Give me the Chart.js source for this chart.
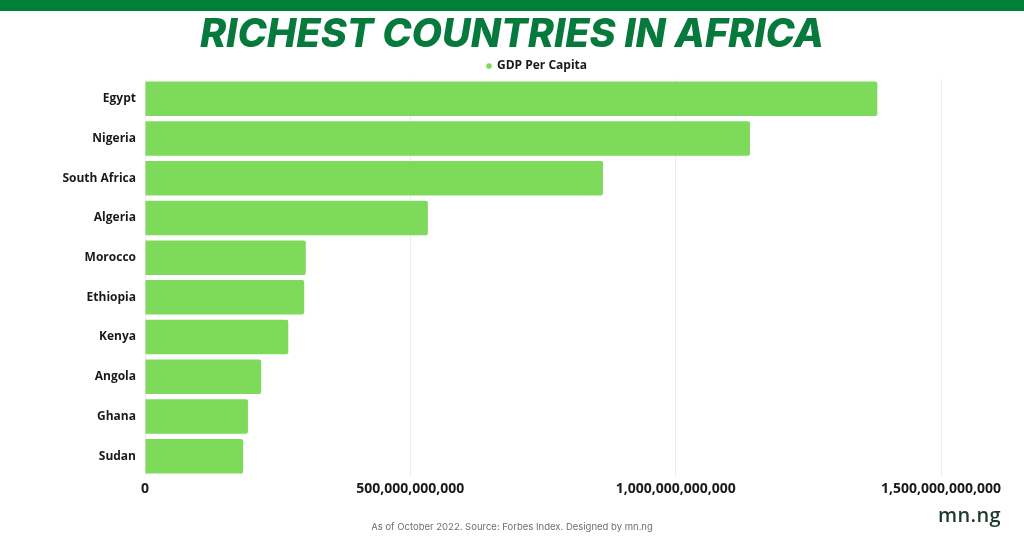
<!DOCTYPE html>
<html>
<head>
<meta charset="utf-8">
<title>Richest Countries in Africa</title>
<script src="https://cdn.jsdelivr.net/npm/chart.js@4"></script>
<style>
    html, body { margin: 0; padding: 0; background: #fff; }
    body { position: relative; width: 1024px; height: 538px; overflow: hidden; font-family: "Open Sans", sans-serif; }
    #topbar { position: absolute; left: 0; top: 0; width: 1024px; height: 11px; background: #007f3a; }
    #title { position: absolute; left: 0; top: 10px; width: 1024px; text-align: center; color: #067a3c; font: italic 800 39.5px/46px Inter, sans-serif; white-space: nowrap; }
    #chart-wrap { position: absolute; left: 0; top: 0; width: 1024px; height: 538px; }
    #note { position: absolute; left: 0; top: 520px; width: 1024px; text-align: center; color: #6f6f6f; font: 400 9.5px/14px Inter, sans-serif; }
    #logo { position: absolute; left: 938px; top: 503px; width: 64px; color: #1f3a2a; font: 600 20px/24px "Open Sans", sans-serif; letter-spacing: 0.4px; white-space: nowrap; }
</style>
</head>
<body>
<div id="chart-wrap"><canvas id="gdp-chart" width="1024" height="538"></canvas></div>
<div id="topbar"></div>
<div id="title">RICHEST COUNTRIES IN AFRICA</div>
<div id="note">As of October 2022. Source: Forbes Index. Designed by mn.ng</div>
<div id="logo">mn.ng</div>
<script>
const countries = ['Egypt', 'Nigeria', 'South Africa', 'Algeria', 'Morocco', 'Ethiopia', 'Kenya', 'Angola', 'Ghana', 'Sudan'];
const gdpValues = [1380e9, 1140e9, 863e9, 533e9, 303e9, 300e9, 270e9, 219e9, 194e9, 185e9];
const seriesLabel = 'GDP Per Capita';
const axisTicks = [0, 500e9, 1000e9, 1500e9];

// the legend sits over the plot area, not over the whole canvas
const legendOverPlot = {
    id: 'legendOverPlot',
    afterLayout(chart) {
        chart.legend.left = 133;
        chart.legend.top += 3;
    }
};

new Chart(document.getElementById('gdp-chart'), {
    type: 'bar',
    plugins: [legendOverPlot],
    data: {
        labels: countries,
        datasets: [{
            label: seriesLabel,
            data: gdpValues,
            backgroundColor: '#7eda5a',
            borderWidth: 0,
            borderRadius: 2,
            categoryPercentage: 1,
            barPercentage: 0.87
        }]
    },
    options: {
        indexAxis: 'y',
        responsive: false,
        animation: false,
        layout: { padding: { top: 54, right: 83, bottom: 0, left: 0 } },
        plugins: {
            legend: {
                position: 'top',
                labels: {
                    usePointStyle: true,
                    pointStyle: 'circle',
                    boxWidth: 4,
                    boxHeight: 4,
                    padding: 3,
                    color: '#1a1a1a',
                    font: { family: '"Open Sans"', size: 12, weight: '700' }
                }
            },
            tooltip: { enabled: false }
        },
        scales: {
            x: {
                min: 0,
                max: 1500e9,
                afterFit: (scale) => { scale.height = 62; },
                afterBuildTicks: (scale) => { scale.ticks = axisTicks.map(v => ({ value: v })); },
                grid: { color: '#ececec', lineWidth: 1, drawTicks: false },
                border: { display: false },
                ticks: {
                    color: '#1a1a1a',
                    padding: 5,
                    maxRotation: 0,
                    font: { family: '"Open Sans"', size: 14, weight: '700' },
                    callback: (v) => v.toLocaleString('en-US')
                }
            },
            y: {
                afterFit: (scale) => { scale.width = 145; },
                grid: { display: false },
                border: { display: false },
                ticks: {
                    color: '#1a1a1a',
                    padding: 1,
                    font: { family: '"Open Sans"', size: 12, weight: '700' }
                }
            }
        }
    }
});
</script>
</body>
</html>
